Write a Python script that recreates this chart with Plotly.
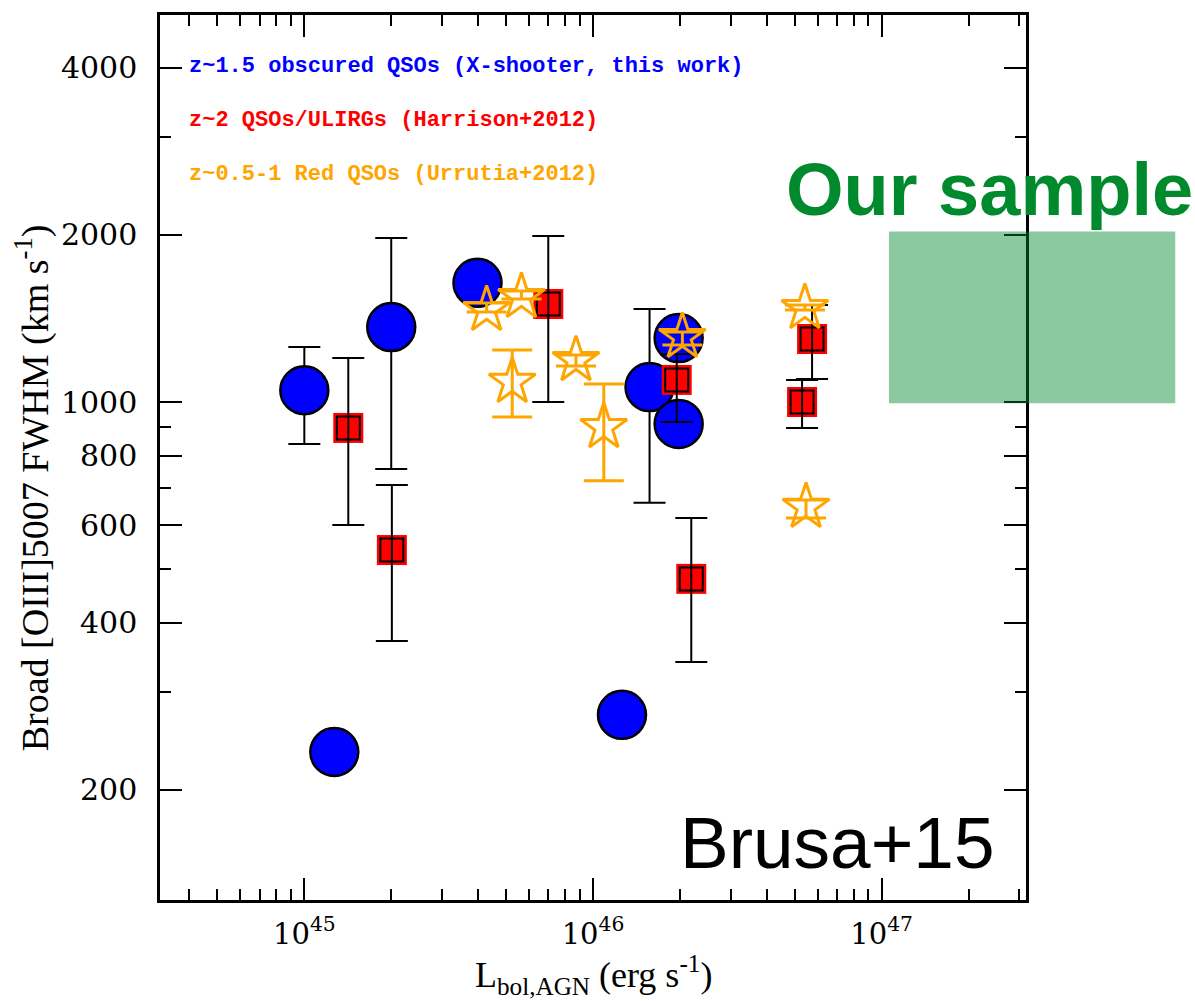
import math
import plotly.graph_objects as go

# z~1.5 obscured QSOs (X-shooter)
obsc_L = [1.0e45, 1.27e45, 2.0e45, 3.98e45, 1.26e46, 1.57e46, 1.98e46, 1.98e46]
obsc_fwhm = [1050, 234, 1365, 1640, 273, 1064, 1304, 913]
obsc_hi = [1256, 234, 1975, 1640, 273, 1471, 1304, 913]
obsc_lo = [840, 234, 757, 1640, 273, 658, 1304, 913]

# z~2 QSOs/ULIRGs (Harrison+2012)
harr_L = [1.42e45, 2.01e45, 7.0e45, 1.95e46, 2.19e46, 5.3e46, 5.74e46]
harr_fwhm = [898, 541, 1502, 1096, 480, 1000, 1299]
harr_hi = [1200, 709, 1991, 1220, 618, 1096, 1496]
harr_lo = [600, 371, 1000, 920, 340, 898, 1100]

# z~0.5-1 red QSOs (Urrutia+2012)
urr_L = [4.28e45, 5.65e45, 5.25e45, 8.73e45, 1.09e46, 2.04e46, 5.42e46, 5.47e46]
urr_fwhm = [1465, 1546, 1087, 1190, 901, 1310, 1477, 647]
urr_hi = [1508, 1585, 1241, 1215, 1078, 1337, 1496, 666]
urr_lo = [1453, 1533, 940, 1161, 721, 1267, 1465, 618]

# region covered by our sample
sample_L = [1.06e47, 1.04e48]
sample_fwhm = [995, 2030]

legend_labels = [
    "z~1.5 obscured QSOs (X-shooter, this work)",
    "z~2 QSOs/ULIRGs (Harrison+2012)",
    "z~0.5-1 Red QSOs (Urrutia+2012)",
]
legend_colors = ["#0000ff", "#ff0000", "#ffa500"]

x_major = [1e45, 1e46, 1e47]
x_major_text = ["10<sup>45</sup>", "10<sup>46</sup>", "10<sup>47</sup>"]
x_minor = [m * 10.0 ** e for e in (44, 45, 46) for m in range(2, 10)] + [2e47, 3e47]
x_minor = [v for v in x_minor if v not in x_major and v > 3.2e44]
y_major = [200, 400, 600, 800, 1000, 2000, 4000]
y_minor = [300, 500, 700, 900, 3000]

XR = [44.5, 47.5]
YR = [2.1025, 3.6975]


def up(v, hi):
    return [h - x for x, h in zip(v, hi)]


def down(v, lo):
    return [x - l for x, l in zip(v, lo)]


fig = go.Figure()

# blue circles with black error bars (bars sit beneath the markers)
fig.add_trace(go.Scatter(
    x=obsc_L, y=obsc_fwhm, mode="markers",
    marker=dict(symbol="circle", size=48, color="#0000ff",
                line=dict(color="black", width=2.5)),
    error_y=dict(type="data", array=up(obsc_fwhm, obsc_hi),
                 arrayminus=down(obsc_fwhm, obsc_lo),
                 color="black", thickness=2, width=16),
    showlegend=False, hoverinfo="skip"))

# red squares: filled red square with an inner black outline
fig.add_trace(go.Scatter(
    x=harr_L, y=harr_fwhm, mode="markers",
    marker=dict(symbol="square", size=30, color="#ff0000", line=dict(width=0)),
    showlegend=False, hoverinfo="skip"))
fig.add_trace(go.Scatter(
    x=harr_L, y=harr_fwhm, mode="markers",
    marker=dict(symbol="square-open", size=23, color="black", line=dict(color="black", width=2)),
    showlegend=False, hoverinfo="skip"))
# their error bars are drawn across the squares
fig.add_trace(go.Scatter(
    x=harr_L, y=harr_fwhm, mode="markers",
    marker=dict(size=1, color="rgba(0,0,0,0)"),
    error_y=dict(type="data", array=up(harr_fwhm, harr_hi),
                 arrayminus=down(harr_fwhm, harr_lo),
                 color="black", thickness=2, width=16),
    showlegend=False, hoverinfo="skip"))

# orange open stars
fig.add_trace(go.Scatter(
    x=urr_L, y=urr_fwhm, mode="markers",
    marker=dict(symbol="star-open", size=35, color="#ffa500",
                line=dict(color="#ffa500", width=3)),
    error_y=dict(type="data", array=up(urr_fwhm, urr_hi),
                 arrayminus=down(urr_fwhm, urr_lo),
                 color="#ffa500", thickness=3, width=20),
    showlegend=False, hoverinfo="skip"))


def xpaper(v):
    return (math.log10(v) - XR[0]) / (XR[1] - XR[0])


# translucent box for our sample (extends past the right frame)
fig.add_shape(type="rect", xref="paper", yref="y",
              x0=xpaper(sample_L[0]), x1=xpaper(sample_L[1]),
              y0=sample_fwhm[0], y1=sample_fwhm[1],
              fillcolor="rgba(0,136,46,0.45)", line=dict(width=0), layer="above")

annotations = []
for i, (lab, col) in enumerate(zip(legend_labels, legend_colors)):
    annotations.append(dict(
        text=lab, xref="paper", yref="paper", x=0.031, y=0.942 - i * 0.0610,
        xanchor="left", yanchor="middle", showarrow=False,
        font=dict(family="Liberation Mono", size=22, color=col, weight="bold")))

annotations += [
    dict(text="Our sample", xref="paper", yref="paper", x=0.720, y=0.803,
         xanchor="left", yanchor="middle", showarrow=False,
         font=dict(family="Liberation Sans", size=74, color="#00892d", weight="bold")),
    dict(text="Brusa+15", xref="paper", yref="paper", x=0.966, y=0.065,
         xanchor="right", yanchor="middle", showarrow=False,
         font=dict(family="Liberation Sans", size=73, color="black")),
    dict(text="Broad [OIII]5007 FWHM (km s<sup>-1</sup>)", xref="paper", yref="paper",
         x=-0.147, y=0.466, xanchor="center", yanchor="middle", textangle=-90,
         showarrow=False, font=dict(family="Liberation Serif", size=38, color="black")),
    dict(text="L<sub>bol,AGN</sub> (erg s<sup>-1</sup>)", xref="paper", yref="paper",
         x=0.5, y=-0.085, xanchor="center", yanchor="middle",
         showarrow=False, font=dict(family="Liberation Serif", size=36, color="black")),
]

axis_common = dict(
    type="log", showline=True, linewidth=2.5, linecolor="black", mirror="ticks",
    ticks="inside", ticklen=22, tickwidth=2, tickcolor="black",
    showgrid=False, zeroline=False,
)

fig.update_xaxes(
    **axis_common, range=XR, tickmode="array", tickvals=x_major, ticktext=x_major_text,
    tickfont=dict(family="DejaVu Serif", size=29, color="black"), ticklabelstandoff=6,
    minor=dict(tickmode="array", tickvals=x_minor, ticks="inside", ticklen=11,
               tickwidth=2, tickcolor="black", showgrid=False),
)
fig.update_yaxes(
    **axis_common, range=YR, tickmode="array", tickvals=y_major,
    ticktext=[str(v) for v in y_major],
    tickfont=dict(family="DejaVu Serif", size=30, color="black"), ticklabelstandoff=14,
    minor=dict(tickmode="array", tickvals=y_minor, ticks="inside", ticklen=11,
               tickwidth=2, tickcolor="black", showgrid=False),
)

fig.update_layout(
    width=1195, height=1001,
    margin=dict(l=160, r=169, t=15, b=101),
    paper_bgcolor="white", plot_bgcolor="white",
    annotations=annotations, showlegend=False,
)

fig.write_html("out.html")
